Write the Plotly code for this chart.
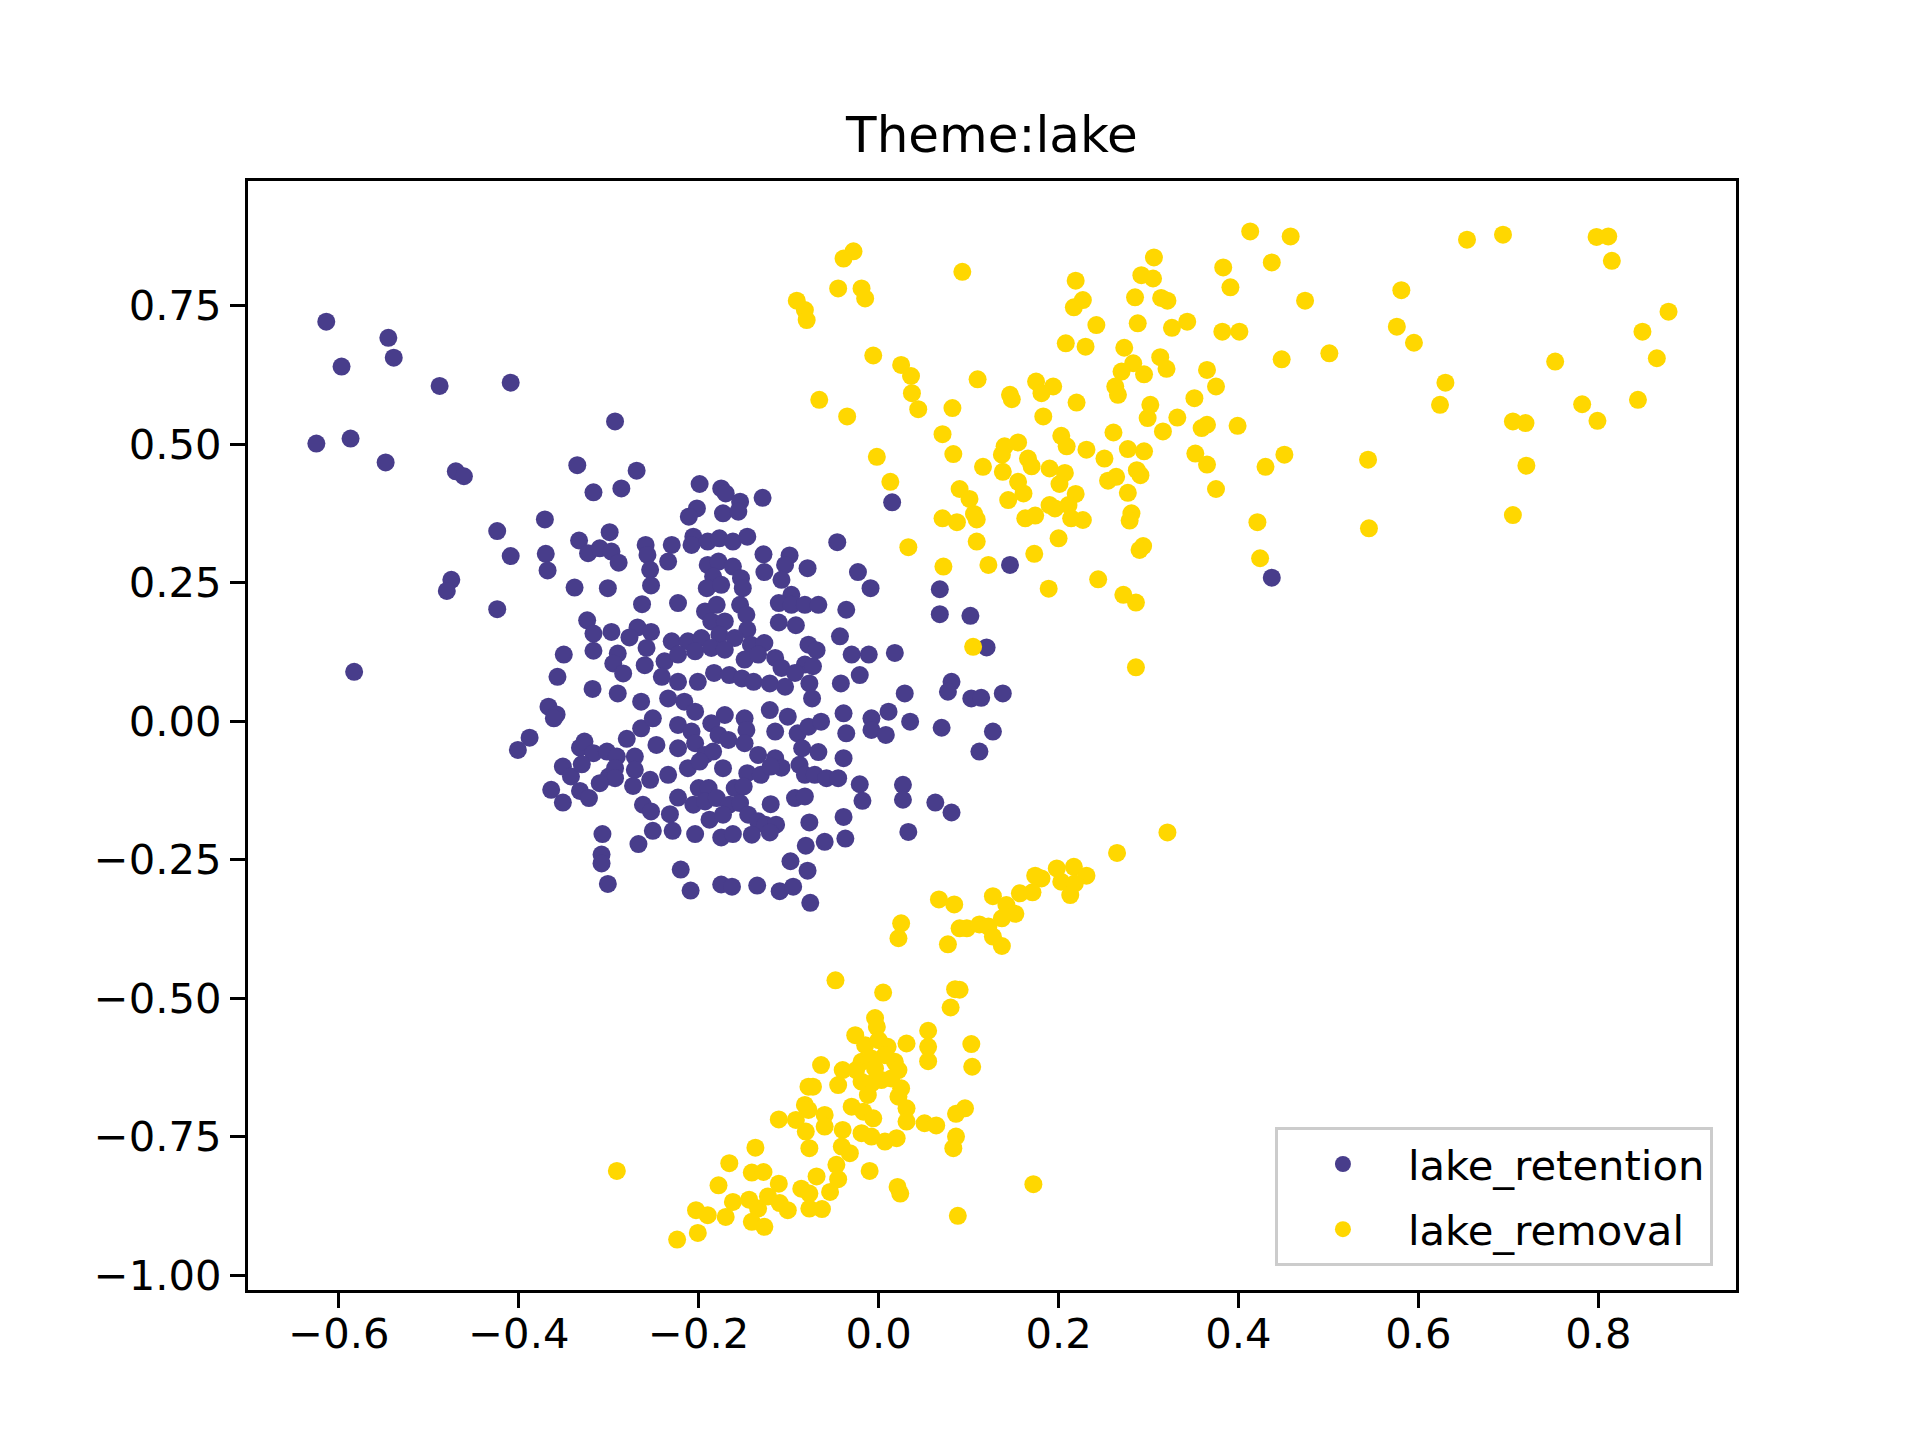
import plotly.graph_objects as go

# lake_retention points (x, y)
retention_upper_left = [
    (-0.614, 0.721), (-0.545, 0.692), (-0.539, 0.656), (-0.597, 0.640), (-0.488, 0.605),
    (-0.409, 0.611), (-0.293, 0.541), (-0.625, 0.501), (-0.587, 0.510), (-0.548, 0.467),
    (-0.470, 0.451), (-0.461, 0.442), (-0.335, 0.462), (-0.269, 0.452), (-0.317, 0.413),
    (-0.286, 0.420), (-0.371, 0.364), (-0.424, 0.343), (-0.299, 0.341), (-0.333, 0.326),
    (-0.259, 0.318), (-0.409, 0.298), (-0.370, 0.302), (-0.323, 0.303), (-0.310, 0.312),
    (-0.297, 0.306), (-0.289, 0.286), (-0.257, 0.300), (-0.368, 0.272), (-0.254, 0.273),
    (-0.475, 0.255), (-0.480, 0.235), (-0.338, 0.241), (-0.301, 0.240), (-0.253, 0.245),
    (-0.424, 0.202), (-0.263, 0.211), (-0.324, 0.182), (-0.317, 0.158), (-0.297, 0.161),
    (-0.268, 0.169), (-0.277, 0.151), (-0.253, 0.161), (-0.583, 0.089), (-0.350, 0.120),
    (-0.317, 0.127), (-0.290, 0.122), (-0.295, 0.104), (-0.284, 0.086), (-0.357, 0.080),
    (-0.318, 0.058), (-0.290, 0.050), (-0.258, 0.132), (-0.260, 0.101),
]

retention_core_top = [
    (-0.199, 0.428), (-0.175, 0.420), (-0.170, 0.411), (-0.154, 0.396), (-0.129, 0.403),
    (-0.202, 0.384), (-0.211, 0.369), (-0.173, 0.375), (-0.156, 0.378), (-0.206, 0.333),
    (-0.230, 0.318), (-0.208, 0.318), (-0.190, 0.324), (-0.177, 0.330), (-0.162, 0.324),
    (-0.146, 0.333), (-0.234, 0.288), (-0.128, 0.301), (-0.099, 0.299), (-0.190, 0.282),
    (-0.178, 0.288), (-0.162, 0.279), (-0.104, 0.282), (-0.127, 0.269), (-0.079, 0.276),
    (-0.046, 0.323), (0.015, 0.395), (-0.023, 0.269), (-0.184, 0.261), (-0.153, 0.258),
    (-0.108, 0.255), (-0.191, 0.240), (-0.175, 0.246), (-0.151, 0.240), (-0.009, 0.240),
    (-0.097, 0.228), (-0.223, 0.213), (-0.193, 0.198), (-0.180, 0.210), (-0.154, 0.210),
    (-0.147, 0.192), (-0.111, 0.213), (-0.097, 0.210), (-0.082, 0.210), (-0.067, 0.210),
    (-0.036, 0.201), (0.068, 0.238), (0.068, 0.193), (0.102, 0.190), (0.146, 0.282),
    (-0.186, 0.180), (-0.171, 0.180), (-0.111, 0.178), (-0.092, 0.173), (-0.146, 0.165),
    (-0.043, 0.153), (-0.230, 0.144), (-0.212, 0.144), (-0.197, 0.150), (-0.177, 0.156),
    (-0.160, 0.150), (-0.142, 0.138), (-0.127, 0.141), (-0.078, 0.138), (-0.069, 0.128),
    (0.120, 0.133), (-0.238, 0.108), (-0.223, 0.120), (-0.204, 0.126), (-0.186, 0.132),
    (-0.171, 0.129), (-0.149, 0.111), (-0.134, 0.120), (-0.115, 0.114), (-0.108, 0.096),
    (-0.030, 0.120), (-0.011, 0.120), (0.018, 0.123), (-0.082, 0.102), (-0.073, 0.099),
    (-0.021, 0.083), (-0.093, 0.087), (-0.241, 0.080), (-0.223, 0.071), (-0.201, 0.071),
    (-0.183, 0.087), (-0.166, 0.083), (-0.152, 0.077), (-0.139, 0.071), (-0.121, 0.068),
    (-0.104, 0.062), (-0.077, 0.068), (-0.042, 0.068), (0.081, 0.071), (0.077, 0.053),
    (0.029, 0.050), (0.103, 0.041), (0.114, 0.042), (0.138, 0.050), (-0.234, 0.041),
    (-0.216, 0.035), (-0.074, 0.041),
]

retention_core_bottom = [
    (-0.204, 0.017), (-0.171, 0.011), (-0.149, 0.005), (-0.121, 0.020), (-0.101, 0.008),
    (-0.039, 0.014), (-0.008, 0.005), (0.011, 0.017), (0.035, -0.001), (0.070, -0.012),
    (0.127, -0.019), (-0.223, -0.007), (-0.208, -0.019), (-0.186, -0.004), (-0.178, -0.025),
    (-0.147, -0.016), (-0.115, -0.019), (-0.090, -0.022), (-0.078, -0.010), (-0.064, -0.001),
    (-0.036, -0.022), (-0.008, -0.016), (0.008, -0.025), (-0.223, -0.049), (-0.204, -0.040),
    (-0.193, -0.061), (-0.184, -0.055), (-0.167, -0.034), (-0.149, -0.040), (-0.134, -0.061),
    (-0.115, -0.067), (-0.108, -0.084), (-0.085, -0.049), (-0.067, -0.056), (-0.039, -0.067),
    (0.112, -0.055), (-0.234, -0.097), (-0.212, -0.085), (-0.199, -0.073), (-0.173, -0.085),
    (-0.146, -0.094), (-0.131, -0.097), (-0.120, -0.082), (-0.088, -0.079), (-0.082, -0.097),
    (-0.071, -0.097), (-0.058, -0.103), (-0.045, -0.103), (-0.021, -0.114), (0.027, -0.115),
    (-0.200, -0.121), (-0.189, -0.121), (-0.160, -0.121), (-0.150, -0.118), (-0.223, -0.138),
    (-0.206, -0.151), (-0.193, -0.145), (-0.180, -0.139), (-0.166, -0.151), (-0.154, -0.148),
    (-0.120, -0.150), (-0.093, -0.139), (-0.082, -0.136), (-0.018, -0.144), (0.027, -0.142),
    (0.063, -0.147), (0.081, -0.165), (-0.232, -0.168), (-0.188, -0.178), (-0.173, -0.169),
    (-0.145, -0.169), (-0.134, -0.181), (-0.126, -0.187), (-0.114, -0.187), (-0.077, -0.183),
    (-0.039, -0.173), (-0.229, -0.198), (-0.204, -0.204), (-0.175, -0.210), (-0.162, -0.204),
    (-0.141, -0.205), (-0.121, -0.201), (-0.081, -0.225), (-0.060, -0.218), (-0.037, -0.212),
    (0.033, -0.200), (-0.098, -0.253), (-0.079, -0.270), (-0.220, -0.268), (-0.209, -0.306),
    (-0.175, -0.295), (-0.163, -0.299), (-0.135, -0.297), (-0.110, -0.307), (-0.095, -0.299),
    (-0.076, -0.328),
]

retention_lower_left = [
    (-0.367, 0.026), (-0.358, 0.012), (-0.361, 0.005), (-0.264, 0.035), (-0.388, -0.030),
    (-0.401, -0.052), (-0.332, -0.048), (-0.327, -0.037), (-0.317, -0.058), (-0.302, -0.055),
    (-0.280, -0.032), (-0.291, -0.064), (-0.271, -0.064), (-0.264, -0.013), (-0.251, 0.005),
    (-0.247, -0.043), (-0.351, -0.082), (-0.342, -0.100), (-0.330, -0.078), (-0.300, -0.100),
    (-0.293, -0.085), (-0.293, -0.103), (-0.310, -0.112), (-0.271, -0.088), (-0.273, -0.117),
    (-0.254, -0.106), (-0.364, -0.124), (-0.351, -0.147), (-0.332, -0.126), (-0.322, -0.139),
    (-0.262, -0.151), (-0.253, -0.163), (-0.251, -0.198), (-0.267, -0.222), (-0.307, -0.204),
    (-0.308, -0.241), (-0.308, -0.257), (-0.301, -0.294),
]

retention_outliers = [(0.437, 0.259)]

# lake_removal points (x, y)
removal_upper_left = [
    (-0.028, 0.848), (-0.039, 0.835), (0.093, 0.811), (-0.045, 0.781), (-0.019, 0.781),
    (-0.015, 0.763), (-0.091, 0.759), (-0.082, 0.742), (-0.080, 0.724), (0.219, 0.795),
    (0.227, 0.760), (0.217, 0.747), (0.208, 0.682), (0.230, 0.676), (-0.006, 0.660),
    (0.025, 0.643), (0.036, 0.623), (0.037, 0.592), (0.044, 0.563), (0.110, 0.617),
    (0.175, 0.613), (0.194, 0.604), (0.181, 0.592), (0.146, 0.589), (0.148, 0.581),
    (0.220, 0.575), (-0.066, 0.580), (-0.035, 0.550), (0.082, 0.565), (0.183, 0.550),
    (0.071, 0.518), (0.203, 0.515), (0.209, 0.496), (0.140, 0.496), (0.155, 0.503),
    (0.137, 0.481), (0.231, 0.490), (0.083, 0.482), (-0.002, 0.477), (0.116, 0.459),
    (0.138, 0.450), (0.166, 0.474), (0.170, 0.460), (0.190, 0.456), (0.207, 0.448),
    (0.201, 0.428), (0.155, 0.432), (0.161, 0.411), (0.013, 0.432), (0.090, 0.419),
    (0.101, 0.401), (0.144, 0.399), (0.219, 0.410), (0.190, 0.390), (0.196, 0.384),
    (0.211, 0.390), (0.071, 0.366), (0.087, 0.359), (0.106, 0.374), (0.109, 0.364),
    (0.163, 0.366), (0.174, 0.371), (0.214, 0.366), (0.227, 0.363), (0.109, 0.324),
    (0.200, 0.330), (0.033, 0.314), (0.072, 0.279), (0.122, 0.282), (0.173, 0.302),
    (0.189, 0.239), (0.105, 0.134),
]

removal_upper_mid = [
    (0.413, 0.884), (0.458, 0.875), (0.437, 0.828), (0.306, 0.837), (0.292, 0.805),
    (0.305, 0.799), (0.383, 0.819), (0.391, 0.783), (0.474, 0.759), (0.285, 0.765),
    (0.314, 0.764), (0.321, 0.759), (0.242, 0.715), (0.288, 0.718), (0.326, 0.710),
    (0.343, 0.721), (0.382, 0.703), (0.401, 0.703), (0.448, 0.653), (0.501, 0.664),
    (0.273, 0.674), (0.283, 0.646), (0.270, 0.631), (0.295, 0.626), (0.313, 0.657),
    (0.320, 0.636), (0.365, 0.634), (0.375, 0.604), (0.263, 0.604), (0.266, 0.589),
    (0.351, 0.583), (0.302, 0.571), (0.299, 0.547), (0.332, 0.548), (0.316, 0.523),
    (0.359, 0.529), (0.365, 0.535), (0.399, 0.533), (0.261, 0.521), (0.251, 0.474),
    (0.277, 0.491), (0.295, 0.487), (0.352, 0.483), (0.365, 0.463), (0.451, 0.481),
    (0.430, 0.459), (0.544, 0.472), (0.255, 0.434), (0.264, 0.441), (0.287, 0.453),
    (0.291, 0.444), (0.277, 0.412), (0.375, 0.419), (0.281, 0.375), (0.279, 0.362),
    (0.421, 0.359), (0.545, 0.348), (0.294, 0.316), (0.290, 0.309), (0.424, 0.294),
    (0.244, 0.256), (0.272, 0.228), (0.286, 0.214), (0.286, 0.097),
]

removal_upper_right = [
    (0.654, 0.869), (0.694, 0.878), (0.798, 0.874), (0.811, 0.875), (0.815, 0.831),
    (0.581, 0.778), (0.576, 0.712), (0.595, 0.683), (0.878, 0.739), (0.849, 0.703),
    (0.865, 0.655), (0.752, 0.649), (0.630, 0.611), (0.624, 0.571), (0.782, 0.572),
    (0.799, 0.542), (0.844, 0.580), (0.705, 0.541), (0.719, 0.538), (0.720, 0.461),
    (0.705, 0.372),
]

removal_lower_left = [
    (0.025, -0.365), (0.022, -0.392), (-0.048, -0.468), (0.005, -0.490), (-0.004, -0.536),
    (-0.002, -0.552), (-0.026, -0.567), (0.031, -0.582), (-0.015, -0.585), (0.000, -0.576),
    (0.010, -0.588), (0.007, -0.603), (0.018, -0.615), (-0.019, -0.615), (-0.008, -0.609),
    (-0.064, -0.621), (-0.040, -0.630), (-0.025, -0.630), (-0.004, -0.627), (0.022, -0.630),
    (-0.019, -0.651), (-0.008, -0.654), (0.003, -0.648), (0.014, -0.645), (-0.045, -0.657),
    (-0.078, -0.660), (-0.073, -0.660), (0.025, -0.663), (-0.012, -0.675), (0.022, -0.678),
    (-0.082, -0.693), (-0.078, -0.702), (-0.060, -0.711), (-0.030, -0.696), (-0.017, -0.705),
    (-0.006, -0.717), (0.031, -0.699), (0.031, -0.723), (-0.111, -0.719), (-0.092, -0.720),
    (-0.081, -0.741), (-0.060, -0.732), (-0.040, -0.738), (-0.019, -0.744), (-0.008, -0.750),
    (0.007, -0.759), (0.020, -0.753), (-0.077, -0.771), (-0.041, -0.768), (-0.032, -0.780),
    (-0.137, -0.770), (-0.010, -0.812), (-0.047, -0.801), (-0.291, -0.812), (-0.166, -0.798),
    (-0.141, -0.815), (-0.128, -0.814), (-0.111, -0.835), (-0.069, -0.822), (-0.045, -0.827),
    (-0.178, -0.838), (-0.086, -0.844), (-0.077, -0.853), (-0.054, -0.850), (0.021, -0.841),
    (0.024, -0.853), (-0.123, -0.858), (-0.144, -0.864), (-0.162, -0.868), (-0.110, -0.870),
    (-0.101, -0.883), (-0.077, -0.880), (-0.063, -0.881), (-0.134, -0.880), (-0.203, -0.883),
    (-0.190, -0.892), (-0.170, -0.895), (-0.141, -0.904), (-0.127, -0.913), (-0.201, -0.924),
    (-0.224, -0.936),
]

removal_lower_right = [
    (0.321, -0.201), (0.265, -0.238), (0.198, -0.266), (0.217, -0.263), (0.231, -0.279),
    (0.203, -0.290), (0.218, -0.293), (0.213, -0.314), (0.174, -0.279), (0.181, -0.284),
    (0.157, -0.311), (0.171, -0.309), (0.127, -0.316), (0.067, -0.322), (0.084, -0.331),
    (0.142, -0.332), (0.152, -0.348), (0.137, -0.356), (0.090, -0.374), (0.098, -0.374),
    (0.112, -0.367), (0.122, -0.371), (0.127, -0.389), (0.137, -0.406), (0.077, -0.403),
    (0.085, -0.484), (0.090, -0.485), (0.080, -0.517), (0.055, -0.559), (0.055, -0.588),
    (0.055, -0.614), (0.103, -0.583), (0.104, -0.624), (0.086, -0.709), (0.096, -0.699),
    (0.051, -0.726), (0.064, -0.730), (0.086, -0.750), (0.083, -0.771), (0.172, -0.836),
    (0.088, -0.893),
]

x_ticks = [-0.6, -0.4, -0.2, 0.0, 0.2, 0.4, 0.6, 0.8]
x_labels = ["\u22120.6", "\u22120.4", "\u22120.2", "0.0", "0.2", "0.4", "0.6", "0.8"]
y_ticks = [-1.0, -0.75, -0.5, -0.25, 0.0, 0.25, 0.5, 0.75]
y_labels = ["\u22121.00", "\u22120.75", "\u22120.50", "\u22120.25", "0.00", "0.25", "0.50", "0.75"]

retention = (retention_upper_left + retention_core_top + retention_core_bottom
             + retention_lower_left + retention_outliers)
removal = (removal_upper_left + removal_upper_mid + removal_upper_right
           + removal_lower_left + removal_lower_right)

FONT = "DejaVu Sans"

fig = go.Figure()
fig.add_trace(go.Scatter(
    x=[p[0] for p in retention], y=[p[1] for p in retention],
    mode="markers", name="lake_retention", legendgroup="a",
    marker=dict(color="#483D8B", size=18, line=dict(width=0)),
))
fig.add_trace(go.Scatter(
    x=[p[0] for p in removal], y=[p[1] for p in removal],
    mode="markers", name="lake_removal", legendgroup="b",
    marker=dict(color="#FFD700", size=18, line=dict(width=0)),
))

axis_style = dict(
    showgrid=False, zeroline=False,
    showline=True, linecolor="black", linewidth=3.3, mirror=True,
    ticks="outside", ticklen=15, tickwidth=3.3, tickcolor="black",
    tickfont=dict(family=FONT, size=41.7, color="black"),
)
fig.update_xaxes(range=[-0.701, 0.953], tickvals=x_ticks, ticktext=x_labels,
                 ticklabelstandoff=-10, **axis_style)
fig.update_yaxes(range=[-1.027, 0.975], tickvals=y_ticks, ticktext=y_labels, **axis_style)

fig.update_layout(
    width=1920, height=1440,
    margin=dict(l=240, r=192, t=173, b=158),
    paper_bgcolor="white", plot_bgcolor="white",
    title=dict(text="Theme:lake", x=0.5, xref="paper", xanchor="center",
               y=1 - 144 / 1440, yref="container", yanchor="bottom",
               font=dict(family=FONT, size=50, color="black")),
    font=dict(family=FONT, color="black"),
    legend=dict(
        x=0.9845, y=0.0213, xanchor="right", yanchor="bottom",
        bgcolor="rgba(255,255,255,0.8)", bordercolor="#cccccc", borderwidth=3,
        font=dict(family=FONT, size=41.7, color="black"),
        itemwidth=120, tracegroupgap=8,
    ),
    showlegend=True,
)

fig.write_html("out.html")
